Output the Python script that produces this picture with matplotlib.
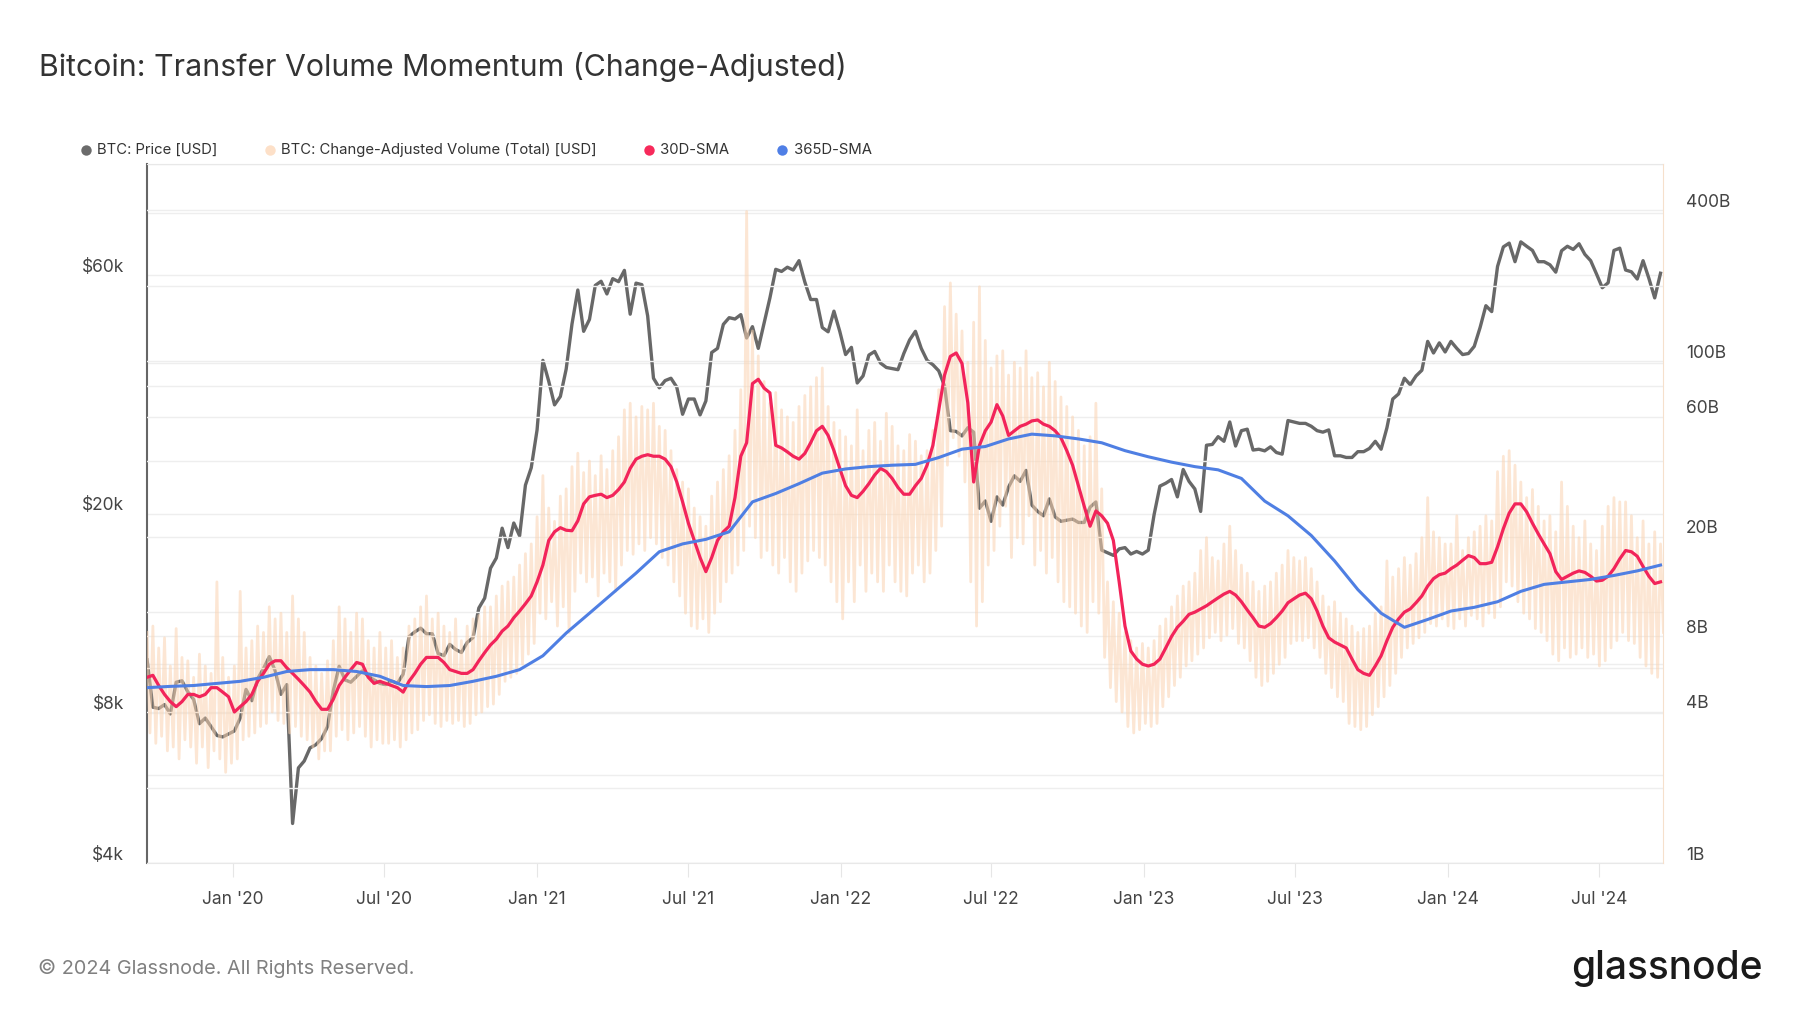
import matplotlib.pyplot as plt
import matplotlib.dates as mdates
from matplotlib.lines import Line2D
from matplotlib.ticker import FixedLocator, FixedFormatter, NullFormatter
from matplotlib.transforms import ScaledTranslation
import numpy as np
import pandas as pd

plt.rcParams['font.family'] = ['Inter', 'DejaVu Sans']

# BTC price, thousands of USD, one value per week from 2019-09-20
price_k = [
    10.2, 8.2, 8.15, 8.3, 7.95, 9.2, 9.26, 8.8, 8.5, 7.6, 7.8, 7.5, 7.2, 7.15, 7.25,
    7.35, 7.8, 8.9, 8.45, 9.35, 9.8, 10.35, 9.7, 8.7, 9.1, 4.8, 6.2, 6.4,
    6.8, 6.9, 7.1, 7.5, 8.85, 9.9, 9.3, 9.2, 9.45, 9.7, 9.45, 9.3, 9.15,
    9.1, 9.25, 9.15, 9.55, 11.35, 11.6, 11.8, 11.5, 11.5, 10.5, 10.4, 10.95, 10.7,
    10.55, 11.05, 11.3, 12.95, 13.55, 15.55, 16.3, 18.7, 17.1, 19.15, 18.05, 22.8, 24.7,
    29.4, 40.5, 36.8, 33.0, 34.3, 38.9, 47.9, 56.0, 46.3, 48.9, 57.2, 58.3, 55.0,
    59.0, 58.2, 61.3, 50.1, 57.8, 57.4, 49.7, 37.3, 35.7, 36.9, 37.3, 35.8, 31.6,
    33.9, 33.9, 31.5, 33.6, 42.0, 42.8, 47.8, 49.3, 49.0, 50.0, 44.9, 47.3, 42.8,
    48.1, 54.0, 61.6, 61.0, 62.2, 61.4, 64.1, 58.1, 53.6, 53.6, 47.1, 46.2, 50.8, 46.3,
    41.6, 43.0, 36.5, 37.7, 41.5, 42.2, 40.0, 39.2, 39.0, 38.8, 41.8, 44.5,
    46.3, 42.8, 40.5, 39.7, 38.6, 36.0, 29.3, 29.2, 28.6, 29.7, 29.1, 20.5, 21.2,
    19.3, 21.6, 20.8, 22.6, 23.8, 23.2, 24.4, 20.8, 20.2, 19.8, 21.4, 19.7, 19.3, 19.4,
    19.5, 19.2, 19.2, 20.6, 21.1, 16.9, 16.7, 16.5, 17.0, 17.1, 16.6, 16.8, 16.6,
    16.9, 19.9, 22.7, 23.0, 23.4, 21.6, 24.5, 23.2, 22.4, 20.2, 27.4, 27.5, 28.5,
    27.9, 30.5, 27.3, 29.3, 29.5, 26.8, 26.9, 26.7, 27.2, 26.5, 26.3, 30.7, 30.5,
    30.3, 30.3, 29.9, 29.3, 29.1, 29.4, 26.1, 26.1, 25.9, 25.9, 26.6, 26.6, 27.0,
    27.9, 26.9, 29.7, 33.9, 34.7, 37.3, 36.2, 37.7, 38.7, 44.2, 41.9, 43.9, 42.1,
    44.2, 42.8, 41.6, 41.8, 43.2, 47.1, 52.1, 50.7, 62.4, 68.3, 69.5, 63.8, 69.9,
    68.5, 67.2, 63.8, 63.8, 62.9, 60.8, 67.1, 68.5, 67.5, 69.3, 66.0, 64.1, 60.3,
    56.6, 57.9, 67.2, 67.9, 61.4, 60.9, 58.9, 64.1, 59.1, 54.0, 60.5,
]

# 30D-SMA of change-adjusted volume, billions USD, same weekly dates
sma30_b = [
    5.5, 5.6, 5.1, 4.7, 4.4, 4.2, 4.4, 4.7, 4.7, 4.6, 4.7, 5.0, 5.0, 4.8, 4.6,
    4.0, 4.2, 4.4, 4.7, 5.3, 5.7, 6.2, 6.4, 6.4, 6.0, 5.7, 5.4, 5.1,
    4.8, 4.4, 4.1, 4.1, 4.5, 5.1, 5.5, 5.9, 6.3, 6.2, 5.5, 5.2, 5.3,
    5.2, 5.1, 5.0, 4.8, 5.3, 5.7, 6.2, 6.6, 6.6, 6.6, 6.3, 5.9, 5.8,
    5.7, 5.7, 5.9, 6.4, 6.9, 7.4, 7.8, 8.4, 8.8, 9.5, 10.1, 10.8, 11.6,
    13.2, 15.4, 19.3, 20.9, 21.7, 21.2, 21.1, 23.1, 27.0, 28.8, 29.2, 29.5, 28.6,
    29.2, 30.8, 33.0, 37.4, 40.7, 41.8, 42.4, 41.8, 41.8, 40.7, 38.0, 33.0, 27.5,
    22.6, 19.3, 16.5, 14.5, 16.5, 19.3, 20.9, 22.0, 28.6, 41.8, 47.3, 81.4, 84.7,
    78.1, 74.8, 46.2, 45.1, 43.5, 41.8, 40.7, 42.9, 47.3, 52.8, 55.0, 50.6, 44.0, 37.4,
    31.9, 29.2, 28.6, 30.3, 32.5, 35.2, 37.4, 36.3, 34.1, 31.4, 29.5, 29.5,
    31.9, 34.1, 38.5, 46.2, 63.8, 88.0, 104.5, 107.8, 97.9, 68.2, 33.0, 46.2, 52.8,
    57.2, 67.1, 60.5, 50.6, 52.8, 55.0, 56.1, 57.8, 58.3, 56.1, 55.0, 52.8, 49.5, 44.0,
    38.5, 31.9, 26.4, 22.0, 25.3, 24.2, 22.6, 19.3, 13.2, 8.8, 7.0, 6.5, 6.2,
    6.1, 6.2, 6.5, 7.2, 8.0, 8.7, 9.2, 9.8, 10.0, 10.3, 10.6, 11.0, 11.4,
    11.8, 12.1, 11.7, 11.0, 10.2, 9.5, 8.8, 8.7, 9.0, 9.5, 10.1, 10.9, 11.3,
    11.7, 11.9, 11.3, 10.1, 8.8, 7.9, 7.6, 7.4, 7.2, 6.5, 5.9, 5.7, 5.6,
    6.1, 6.7, 7.7, 8.7, 9.4, 10.0, 10.3, 10.9, 11.6, 12.7, 13.6, 14.1, 14.3,
    14.9, 15.4, 16.1, 16.8, 16.5, 15.6, 15.6, 15.8, 18.2, 21.5, 24.8, 27.0, 27.0,
    25.1, 22.6, 20.5, 18.7, 17.1, 14.5, 13.5, 13.9, 14.3, 14.6, 14.4, 13.9, 13.3,
    13.4, 13.9, 14.9, 16.3, 17.6, 17.4, 16.7, 15.2, 13.9, 13.0, 13.2,
]

# 365D-SMA, billions USD, every fourth week
sma365_b = [
    5.0, 5.06, 5.1, 5.2, 5.3, 5.5, 5.8, 5.9, 5.9, 5.8,
    5.55, 5.1, 5.05, 5.1, 5.3, 5.55, 5.9, 6.7, 8.25, 9.9,
    11.9, 14.3, 17.4, 18.7, 19.5, 20.9, 27.5, 29.7, 32.5, 35.8,
    37.2, 38.0, 38.5, 38.8, 41.3, 44.6, 45.7, 49.0, 51.2, 50.4,
    49.0, 47.3, 44.0, 41.6, 39.6, 38.0, 36.9, 34.1, 27.7, 24.2,
    20.2, 16.0, 12.3, 9.9, 8.7, 9.35, 10.1, 10.45, 11.0, 12.1,
    12.9, 13.2, 13.5, 14.0, 14.6, 15.4,
]

# weekly peak and trough of the daily volume, billions USD
vol_hi_b = [
    8.3, 8.8, 7.2, 7.9, 6.1, 8.6, 6.6, 6.4, 5.5, 6.8, 6.1, 5.7, 13.2, 6.6, 5.5,
    6.1, 12.1, 7.2, 7.7, 8.8, 8.3, 10.5, 9.4, 9.9, 8.3, 11.6, 9.4, 8.3,
    6.6, 6.1, 5.7, 6.4, 7.7, 10.5, 9.4, 8.3, 9.9, 9.4, 7.7, 7.2, 8.3,
    7.2, 7.7, 6.6, 7.2, 8.8, 9.4, 10.5, 11.6, 9.4, 9.9, 8.8, 8.3, 9.4,
    7.7, 8.8, 9.4, 9.7, 10.5, 10.5, 11.6, 12.7, 13.2, 13.8, 15.4, 17.1, 18.7,
    24, 35, 26, 23, 29, 31, 38, 43, 36, 40, 35, 42, 37,
    44, 50, 64, 68, 60, 66, 64, 68, 55, 53, 44, 37, 33,
    31, 26, 24, 22, 29, 33, 37, 42, 53, 77, 395, 132, 105,
    83, 68, 75, 64, 60, 57, 66, 73, 79, 86, 94, 66, 57, 53,
    50, 46, 64, 44, 53, 57, 48, 62, 55, 46, 44, 51,
    48, 42, 44, 53, 77, 165, 205, 154, 132, 99, 143, 198, 121,
    94, 105, 110, 88, 99, 94, 110, 86, 90, 79, 99, 83, 72, 66,
    60, 53, 46, 50, 68, 31, 13.2, 11, 9.9, 8.3, 7.7, 7.2, 7.5,
    7.2, 7.7, 8.8, 9.4, 10.5, 11.6, 12.7, 13.2, 14.3, 17.6, 19.8, 16.5, 16,
    18.7, 22, 17.6, 15.4, 14.3, 13.2, 12.1, 12.7, 13.2, 14.3, 15.4, 17.6, 16.5,
    16, 16.5, 14.9, 13.2, 11.6, 10.5, 11, 9.9, 9.4, 8.8, 8.3, 8.6, 8.8,
    9.9, 10.5, 16, 13.8, 14.9, 16.5, 15.4, 17.1, 19.8, 28.6, 20.9, 19.8, 18.7,
    18.7, 24.2, 17.6, 19.8, 20.9, 22, 24.2, 23.1, 36.3, 41.8, 44, 38.5, 33,
    28.6, 30.8, 26.4, 23.1, 24.2, 20.9, 33, 26.4, 22, 19.8, 23.1, 18.7, 17.6,
    22, 26.4, 28.6, 27.5, 27.5, 24.2, 19.8, 23.1, 18.7, 20.9, 18.7,
]
vol_lo_b = [
    3.3, 3.0, 3.2, 2.8, 2.9, 2.6, 3.1, 2.9, 2.5, 2.9, 2.4, 2.8, 2.6, 2.3, 2.5,
    2.6, 3.1, 3.2, 3.3, 3.5, 3.6, 4.0, 3.7, 3.6, 3.3, 3.5, 3.2, 3.1,
    2.9, 2.6, 2.8, 2.8, 3.2, 3.4, 3.1, 3.3, 3.5, 3.2, 2.9, 3.1, 3.0,
    3.0, 3.1, 2.9, 3.1, 3.3, 3.4, 3.7, 3.9, 3.6, 3.5, 3.7, 3.6, 3.7,
    3.5, 3.6, 3.9, 4.0, 4.2, 4.3, 4.7, 5.3, 5.5, 5.7, 6.2, 6.8, 7.5,
    9.9, 9.4, 11, 8.8, 10.5, 8.3, 12.1, 14.3, 13.2, 13.8, 11.6, 14.3, 13.2,
    12.1, 15.4, 17.6, 17, 18.7, 17.6, 19.8, 18.7, 16.5, 15.4, 13.2, 11.6, 9.9,
    8.8, 8.6, 9.4, 8.3, 9.9, 11, 13.2, 14.3, 15.4, 17.6, 22, 19.8, 16.5,
    17.6, 15.4, 14.3, 16.5, 13.2, 12.1, 14.3, 16, 17.6, 16.5, 15.4, 13.2, 11, 9.4,
    13.2, 11, 15.4, 12.1, 14.3, 13.2, 12.1, 15.4, 13.2, 12.1, 11.6, 14.3,
    15.4, 13.2, 14.3, 17.6, 22, 38.5, 49.5, 41.8, 33, 13.2, 8.8, 11, 15.4,
    17.6, 22, 26.4, 16.5, 19.8, 18.7, 24.2, 15.4, 17.6, 14.3, 16.5, 13.2, 11, 10.5,
    9.9, 8.8, 8.3, 11, 9.9, 6.6, 5.0, 4.4, 4.0, 3.5, 3.3, 3.4, 3.6,
    3.5, 3.6, 4.2, 4.6, 5.1, 5.5, 6.1, 6.4, 6.8, 7.2, 7.9, 8.3, 7.7,
    8.1, 8.6, 7.5, 7.2, 6.4, 5.5, 5.1, 5.3, 5.7, 6.2, 6.6, 7.5, 7.7,
    7.7, 7.9, 7.2, 6.6, 5.7, 5.0, 4.6, 4.4, 3.6, 3.5, 3.4, 3.5, 3.9,
    4.2, 4.6, 5.1, 5.7, 6.6, 7.2, 7.5, 7.9, 8.3, 9.0, 8.8, 9.4, 8.8,
    8.6, 9.4, 8.8, 9.7, 9.4, 8.8, 9.9, 9.5, 10.5, 13.2, 12.7, 11, 9.9,
    9.4, 8.6, 8.3, 7.7, 6.8, 6.4, 7.2, 6.6, 6.8, 7.2, 6.6, 6.8, 6.1,
    6.4, 7.2, 7.7, 8.3, 7.7, 7.5, 6.6, 6.1, 5.7, 5.5, 8.3,
]

price_ticks = [4000, 8000, 20000, 60000]
price_labels = ['$4k', '$8k', '$20k', '$60k']
price_grid = [6000, 10000, 40000, 80000, 100000]
vol_ticks = [1e9, 4e9, 8e9, 20e9, 60e9, 100e9, 400e9]
vol_labels = ['1B', '4B', '8B', '20B', '60B', '100B', '400B']
vol_grid = [2e9, 6e9, 10e9, 40e9, 80e9, 200e9]

weeks = pd.date_range('2019-09-20', periods=len(price_k), freq='7D')
half_weeks = pd.date_range('2019-09-20', periods=2 * len(vol_hi_b), freq='84h')
vol = np.column_stack([vol_hi_b, vol_lo_b]).ravel() * 1e9

fig = plt.figure(figsize=(18, 10.13), dpi=100)
ax = fig.add_axes([0.0817, 0.148, 0.8422, 0.690])
ax2 = ax.twinx()

ax.plot(weeks, np.array(price_k) * 1000, color='#686868', lw=2.4)
ax2.plot(half_weeks, vol, color='#fbd3b1', alpha=0.55, lw=2.0)
ax2.plot(weeks, np.array(sma30_b) * 1e9, color='#f2245a', lw=2.3)
ax2.plot(weeks[::4], np.array(sma365_b) * 1e9, color='#4f7fe3', lw=2.2)

ax.set_yscale('log')
ax.set_ylim(4000, 100000)
ax2.set_yscale('log')
ax2.set_ylim(1e9, 610e9)
ax.set_xlim(pd.Timestamp('2019-09-20'), pd.Timestamp('2024-09-16'))

up = ScaledTranslation(0, 0.1, fig.dpi_scale_trans)
for a, ticks, labels, grid in [(ax, price_ticks, price_labels, price_grid),
                               (ax2, vol_ticks, vol_labels, vol_grid)]:
    a.yaxis.set_major_locator(FixedLocator(ticks))
    a.yaxis.set_major_formatter(FixedFormatter(labels))
    a.yaxis.set_minor_locator(FixedLocator(grid))
    a.yaxis.set_minor_formatter(NullFormatter())
    a.tick_params(axis='y', which='both', length=0, labelsize=12.5,
                  labelcolor='#444444', pad=16.5)
    a.grid(axis='y', which='both', color='#eeeeee', lw=1.0)
    a.set_axisbelow(True)
    for lbl in a.get_yticklabels():
        lbl.set_transform(lbl.get_transform() + up)

ax.xaxis.set_major_locator(mdates.MonthLocator(bymonth=[1, 7]))
ax.xaxis.set_major_formatter(mdates.DateFormatter("%b '%y"))
ax.tick_params(axis='x', length=10, color='#e6e6e6', labelsize=12.5,
               labelcolor='#444444', pad=10)

ax.spines['left'].set_color('#666666')
ax.spines['left'].set_linewidth(1.5)
ax.spines['right'].set_visible(False)
ax.spines['top'].set_color('#e8e8e8')
ax.spines['bottom'].set_color('#e8e8e8')
for s in ['left', 'top', 'bottom']:
    ax2.spines[s].set_visible(False)
ax2.spines['right'].set_color('#f6e0cc')

fig.text(0.0217, 0.934, 'Bitcoin: Transfer Volume Momentum (Change-Adjusted)',
         fontsize=21.8, color='#333333', va='center', ha='left')

legend = [('BTC: Price [USD]', '#6b6b6b', 0.0478),
          ('BTC: Change-Adjusted Volume (Total) [USD]', '#fde0c8', 0.1499),
          ('30D-SMA', '#f72a5b', 0.3606),
          ('365D-SMA', '#4f7fe6', 0.4347)]
for name, col, x in legend:
    fig.add_artist(Line2D([x], [0.852], marker='o', markersize=7.5, color=col,
                          markeredgewidth=0, transform=fig.transFigure))
    fig.text(x + 0.0062, 0.852, name, fontsize=10.7, color='#333333',
             va='center', ha='left')

fig.text(0.0211, 0.0444, '\u00a9 2024 Glassnode. All Rights Reserved.',
         fontsize=14.3, color='#808080', va='center', ha='left')
fig.text(0.979, 0.0444, 'glassnode', fontsize=28, color='#1a1a1a',
         fontweight='medium', va='center', ha='right')

fig.savefig('out.png', dpi=100)
